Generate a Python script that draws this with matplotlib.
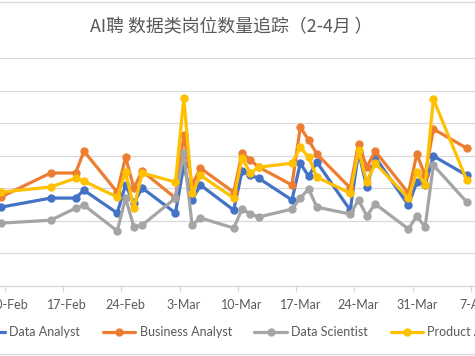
import numpy as np
import matplotlib
matplotlib.use("Agg")
import matplotlib.pyplot as plt
import matplotlib.dates as mdates
from matplotlib.lines import Line2D

plt.rcParams['font.family'] = ['Lato', 'Noto Sans CJK SC', 'DejaVu Sans']

# dates of the counts (2019)
dates = ["2019-02-09", "2019-02-15", "2019-02-18", "2019-02-19", "2019-02-23",
         "2019-02-24", "2019-02-25", "2019-02-26", "2019-03-02", "2019-03-03",
         "2019-03-04", "2019-03-05", "2019-03-09", "2019-03-10", "2019-03-11",
         "2019-03-12", "2019-03-16", "2019-03-17", "2019-03-18", "2019-03-19",
         "2019-03-23", "2019-03-24", "2019-03-25", "2019-03-26", "2019-03-30",
         "2019-03-31", "2019-04-01", "2019-04-02", "2019-04-06"]

data_analyst = [242, 270, 270, 294, 224, 310, 255, 301, 224, 371,
                264, 310, 233, 353, 340, 331, 264, 377, 337, 380,
                233, 411, 304, 396, 248, 319, 310, 399, 340]
business_analyst = [273, 347, 347, 414, 288, 396, 301, 353, 270, 463,
                    310, 362, 288, 408, 387, 365, 310, 488, 448, 405,
                    301, 436, 365, 414, 285, 405, 340, 482, 423]
data_scientist = [193, 202, 239, 248, 169, 270, 181, 187, 270, 408,
                  187, 209, 178, 236, 221, 212, 236, 270, 298, 242,
                  221, 264, 215, 252, 175, 215, 181, 371, 258]
product_analyst = [288, 304, 331, 322, 273, 350, 239, 347, 319, 577,
                   285, 340, 270, 393, 347, 365, 377, 426, 396, 334,
                   285, 417, 319, 377, 270, 350, 310, 574, 325]

series = [("Data Analyst", data_analyst, "#4472C4"),
          ("Business Analyst", business_analyst, "#ED7D31"),
          ("Data Scientist", data_scientist, "#A5A5A5"),
          ("Product Analyst", product_analyst, "#FFC000")]

tick_dates = ["2019-02-10", "2019-02-17", "2019-02-24", "2019-03-03",
              "2019-03-10", "2019-03-17", "2019-03-24", "2019-03-31", "2019-04-07"]
tick_labels = ["10-Feb", "17-Feb", "24-Feb", "3-Mar", "10-Mar",
               "17-Mar", "24-Mar", "31-Mar", "7-Apr"]

x = mdates.datestr2num(dates)
xt = mdates.datestr2num(tick_dates)

fig = plt.figure(figsize=(4.75, 3.56), dpi=100)
ax = fig.add_axes([0, 0.1966, 1, 0.6404])

for name, vals, col in series:
    ax.plot(x, vals, color=col, lw=2.3, marker='o', ms=5, label=name,
            solid_joinstyle='round', solid_capstyle='round')

# cropped Excel view: the axis runs past both figure edges
feb17 = mdates.datestr2num("2019-02-17")
ax.set_xlim(feb17 - 68.2 / 8.43, feb17 + (475 - 68.2) / 8.43)
ax.set_ylim(0, 700)
ax.set_yticks(np.arange(0, 701, 100))
ax.yaxis.grid(True, color="#d9d9d9", lw=0.9)
ax.set_axisbelow(True)
ax.tick_params(axis='y', left=False, labelleft=False)

ax.set_xticks(xt - 0.5)
ax.set_xticklabels([])
ax.set_xticks(xt, minor=True)
ax.set_xticklabels(tick_labels, minor=True)
ax.tick_params(axis='x', which='major', length=4, color="#d9d9d9", width=0.9)
ax.tick_params(axis='x', which='minor', length=0, pad=9, labelsize=9, labelcolor="#595959")

for s in ['left', 'right', 'top']:
    ax.spines[s].set_visible(False)
ax.spines['bottom'].set_color("#d9d9d9")
ax.spines['bottom'].set_linewidth(0.9)

fig.text(231 / 475, 1 - 27 / 356, "AI聘 数据类岗位数量追踪（2-4月 ）",
         ha='center', va='center', fontsize=12.9, color="#595959",
         family=['Noto Sans CJK SC', 'DejaVu Sans'])

ax.legend(loc='center', bbox_to_anchor=(244 / 475, 1 - 332 / 356),
          bbox_transform=fig.transFigure, ncol=4, frameon=False,
          fontsize=9, handlelength=2.6, handletextpad=0.35,
          columnspacing=1.8, labelcolor="#595959")

# chart area border lines (top and bottom visible)
for yy in [1 - 2 / 356, 2 / 356]:
    fig.add_artist(Line2D([0, 1], [yy, yy], transform=fig.transFigure,
                          color="#d9d9d9", lw=1))

fig.savefig("out.png", dpi=100)
